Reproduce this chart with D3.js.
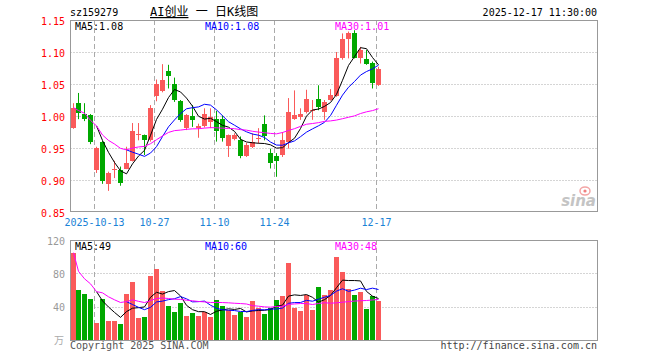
<!DOCTYPE html>
<html>
<head>
<meta charset="utf-8">
<script src="https://cdn.jsdelivr.net/npm/d3@7"></script>
<style>
body { margin: 0; background: #fff; }
svg { display: block; }
text { font-family: "DejaVu Sans Mono", monospace; font-size: 10px; }
</style>
</head>
<body>
<div id="chart"></div>
<script>
// ticks on the date axis (index of the trading day, label)
var tickIndex = [4, 14, 24, 34, 51];
var tickLabels = ["2025-10-13", "10-27", "11-10", "11-24", "12-17"];

var priceTicks = [1.15, 1.10, 1.05, 1.00, 0.95, 0.90, 0.85];
var volTicks = [120, 80, 40];

// daily candles, 2025-09-29 .. 2025-12-17
var open  = [0.981, 1.021, 1.003, 1.002, 0.916, 0.960, 0.894, 0.915, 0.915, 0.917,
             0.930, 0.970, 0.970, 0.963, 1.032, 1.039, 1.070, 1.050, 1.024, 0.982,
             1.000, 0.982, 0.985, 0.991, 0.996, 0.995, 0.953, 0.964, 0.962, 0.938,
             0.952, 0.964, 0.988, 0.942, 0.938, 0.939, 0.960, 0.996, 0.999, 1.006,
             1.008, 1.027, 1.007, 1.025, 1.031, 1.091, 1.120, 1.130, 1.091, 1.089,
             1.083, 1.048];
var high  = [1.020, 1.036, 1.020, 1.003, 0.952, 0.961, 0.913, 0.930, 0.921, 0.952,
             0.989, 0.989, 0.971, 1.017, 1.057, 1.081, 1.080, 1.060, 1.025, 1.003,
             1.017, 0.988, 1.012, 1.012, 1.008, 1.001, 0.971, 0.973, 0.968, 0.958,
             0.973, 0.981, 1.001, 0.949, 0.942, 0.975, 1.028, 1.040, 1.012, 1.041,
             1.025, 1.048, 1.025, 1.042, 1.100, 1.129, 1.132, 1.134, 1.108, 1.103,
             1.085, 1.077];
var low   = [0.980, 0.995, 0.992, 0.956, 0.911, 0.894, 0.883, 0.903, 0.891, 0.917,
             0.929, 0.962, 0.939, 0.960, 1.023, 1.037, 1.043, 1.022, 0.991, 0.978,
             0.983, 0.966, 0.982, 0.981, 0.960, 0.960, 0.936, 0.962, 0.934, 0.936,
             0.950, 0.957, 0.962, 0.918, 0.905, 0.936, 0.949, 0.994, 0.994, 1.004,
             0.994, 1.009, 0.994, 1.024, 1.030, 1.088, 1.090, 1.090, 1.082, 1.080,
             1.043, 1.047];
var close = [1.013, 1.004, 0.996, 0.960, 0.950, 0.899, 0.911, 0.917, 0.895, 0.926,
             0.977, 0.972, 0.962, 1.012, 1.050, 1.057, 1.063, 1.025, 0.993, 1.002,
             0.994, 0.984, 1.003, 0.999, 0.976, 0.965, 0.970, 0.970, 0.937, 0.955,
             0.959, 0.966, 0.968, 0.927, 0.929, 0.962, 1.007, 1.001, 1.003, 1.026,
             1.010, 1.014, 1.022, 1.033, 1.090, 1.120, 1.130, 1.091, 1.103, 1.082,
             1.051, 1.073];
// volume, 万
var volume = [104.8, 60, 55.6, 49.2, 20.8, 49.2, 23.2, 23.2, 19.2, 55.6,
              69.6, 26.4, 27.6, 77.2, 85.6, 58.8, 41.2, 34, 44.8, 29.2,
              32.8, 29.2, 34, 28, 48.4, 40.8, 36, 30, 34, 27.6,
              46.8, 38.8, 31.2, 38.4, 48, 52.8, 92.8, 38.8, 34.8, 53.6,
              36, 63.6, 54, 60, 100, 81.6, 61.2, 54, 57.6, 37.2,
              52.8, 47.2];

var RED = "#fa5a5a", GREEN = "#00a800";
var n = close.length;

// moving average; MA30 averages what is available at the start
function movingAvg(arr, len, expanding) {
  return arr.map(function(d, i) {
    if (i < len - 1 && !expanding) return null;
    return d3.mean(arr.slice(Math.max(0, i - len + 1), i + 1));
  });
}

var svg = d3.select("#chart").append("svg")
    .attr("width", 660)
    .attr("height", 360);

var left = 70.5, right = 597.5;
var x = d3.scaleLinear().domain([0, n - 1]).range([70.5, 376]);
var bw = 5;
var yP = d3.scaleLinear().domain([0.85, 1.15]).range([212, 20]);
var yV = d3.scaleLinear().domain([0, 120]).range([340, 240]);

function isUp(i) { return close[i] >= open[i]; }

// header
svg.append("text").attr("x", 70).attr("y", 16).text("sz159279");
var title = svg.append("text").attr("x", 150).attr("y", 16)
    .style("font-size", "12px")
    .style("font-family", "'DejaVu Sans Mono', 'Noto Sans CJK SC', monospace");
title.append("tspan").style("text-decoration", "underline").text("AI创业");
title.append("tspan").text(" 一 日K线图");
svg.append("text").attr("x", 597).attr("y", 16).attr("text-anchor", "end")
    .text("2025-12-17 11:30:00");

// horizontal grid
svg.selectAll("line.pgrid")
    .data(priceTicks.slice(1, -1))
    .enter().append("line")
    .attr("x1", left).attr("x2", right)
    .attr("y1", function(d) { return Math.round(yP(d)) + 0.5; })
    .attr("y2", function(d) { return Math.round(yP(d)) + 0.5; })
    .style("stroke", "#aaa")
    .style("stroke-dasharray", "1,2");

svg.selectAll("line.vgrid")
    .data(volTicks.slice(1))
    .enter().append("line")
    .attr("x1", left).attr("x2", right)
    .attr("y1", function(d) { return Math.round(yV(d)) + 0.5; })
    .attr("y2", function(d) { return Math.round(yV(d)) + 0.5; })
    .style("stroke", "#aaa")
    .style("stroke-dasharray", "1,2");

// date dashes through both panels
[[20, 211], [240, 340]].forEach(function(r) {
  svg.selectAll(null)
      .data(tickIndex)
      .enter().append("line")
      .attr("x1", function(d) { return Math.round(x(d)) + 0.5; })
      .attr("x2", function(d) { return Math.round(x(d)) + 0.5; })
      .attr("y1", r[0]).attr("y2", r[1])
      .style("stroke", "#aaa")
      .style("stroke-dasharray", "5,3");
});

// price labels
svg.selectAll("text.plab")
    .data(priceTicks)
    .enter().append("text")
    .attr("x", 65)
    .attr("y", function(d) { return yP(d) + 1; })
    .attr("dy", "0.35em")
    .attr("text-anchor", "end")
    .style("fill", "#f00")
    .text(function(d) { return d.toFixed(2); });

svg.selectAll("text.vlab")
    .data(volTicks)
    .enter().append("text")
    .attr("x", 65)
    .attr("y", function(d) { return yV(d) + 1; })
    .attr("dy", "0.35em")
    .attr("text-anchor", "end")
    .style("fill", "#999")
    .text(function(d) { return d; });

svg.append("text").attr("x", 64).attr("y", 344).attr("text-anchor", "end")
    .style("fill", "#aaa")
    .style("font-family", "'Noto Sans CJK SC', sans-serif")
    .text("万");

// date labels
svg.selectAll("text.dlab")
    .data(tickIndex)
    .enter().append("text")
    .attr("x", function(d) { return Math.round(x(d)) + 0.5; })
    .attr("y", 225.5)
    .attr("text-anchor", "middle")
    .style("fill", "#1a82d6")
    .text(function(d, i) { return tickLabels[i]; });

// candles
var idx = d3.range(n);
svg.selectAll("line.wick")
    .data(idx)
    .enter().append("line")
    .attr("x1", function(i) { return Math.round(x(i)) + 2.5; })
    .attr("x2", function(i) { return Math.round(x(i)) + 2.5; })
    .attr("y1", function(i) { return yP(high[i]); })
    .attr("y2", function(i) { return yP(low[i]); })
    .style("stroke", function(i) { return isUp(i) ? RED : GREEN; });

svg.selectAll("rect.body")
    .data(idx)
    .enter().append("rect")
    .attr("x", function(i) { return Math.round(x(i)); })
    .attr("width", bw)
    .attr("y", function(i) { return yP(Math.max(open[i], close[i])); })
    .attr("height", function(i) {
      return Math.max(1, Math.abs(yP(open[i]) - yP(close[i])));
    })
    .style("fill", function(i) { return isUp(i) ? RED : GREEN; })
    .style("shape-rendering", "crispEdges");

// volume bars
svg.selectAll("rect.vol")
    .data(idx)
    .enter().append("rect")
    .attr("x", function(i) { return Math.round(x(i)); })
    .attr("width", bw)
    .attr("y", function(i) { return yV(volume[i]); })
    .attr("height", function(i) { return yV(0) - yV(volume[i]); })
    .style("fill", function(i) { return isUp(i) ? RED : GREEN; })
    .style("shape-rendering", "crispEdges");

// moving averages
var maDefs = [
  { len: 5, color: "#000", expanding: false },
  { len: 10, color: "#00f", expanding: false },
  { len: 30, color: "#f0f", expanding: true }
];

function drawMA(arr, yScale) {
  maDefs.forEach(function(m) {
    var vals = movingAvg(arr, m.len, m.expanding);
    m.last = vals[n - 1];
    var line = d3.line()
        .defined(function(d) { return d != null; })
        .x(function(d, i) { return Math.round(x(i)) + 2.5; })
        .y(function(d) { return yScale(d); });
    svg.append("path")
        .datum(vals)
        .attr("d", line)
        .style("fill", "none")
        .style("stroke", m.color)
        .style("stroke-width", 1);
  });
}

drawMA(close, yP);
var priceLast = maDefs.map(function(m) { return m.last; });
drawMA(volume, yV);
var volLast = maDefs.map(function(m) { return m.last; });

// frames
svg.append("rect").attr("x", left).attr("y", 20.5)
    .attr("width", right - left).attr("height", 191)
    .style("fill", "none").style("stroke", "#999");
svg.append("rect").attr("x", left).attr("y", 240.5)
    .attr("width", right - left).attr("height", 100)
    .style("fill", "none").style("stroke", "#999");

// legends
var legendX = [75, 205, 335];
maDefs.forEach(function(m, k) {
  svg.append("text").attr("x", legendX[k]).attr("y", 29.5)
      .style("fill", m.color)
      .text("MA" + m.len + ":" + priceLast[k].toFixed(2));
  svg.append("text").attr("x", legendX[k]).attr("y", 249.5)
      .style("fill", m.color)
      .text("MA" + m.len + ":" + Math.floor(volLast[k]));
});

// sina mark
svg.append("ellipse").attr("cx", 585).attr("cy", 191).attr("rx", 5).attr("ry", 4)
    .style("fill", "none").style("stroke", "#f3a5a5").style("stroke-width", 1.5);
svg.append("circle").attr("cx", 585).attr("cy", 191).attr("r", 1.6)
    .style("fill", "#f08080");
svg.append("text").attr("x", 596).attr("y", 206).attr("text-anchor", "end")
    .style("font-family", "'DejaVu Sans', sans-serif")
    .style("font-style", "italic").style("font-weight", "bold")
    .style("font-size", "15px").style("fill", "#c4c4c4")
    .text("sina");

// footer
svg.append("text").attr("x", 70).attr("y", 349).style("fill", "#555")
    .text("Copyright 2025 SINA.COM");
svg.append("text").attr("x", 597).attr("y", 349).attr("text-anchor", "end")
    .style("fill", "#444")
    .text("http://finance.sina.com.cn");
</script>
</body>
</html>
